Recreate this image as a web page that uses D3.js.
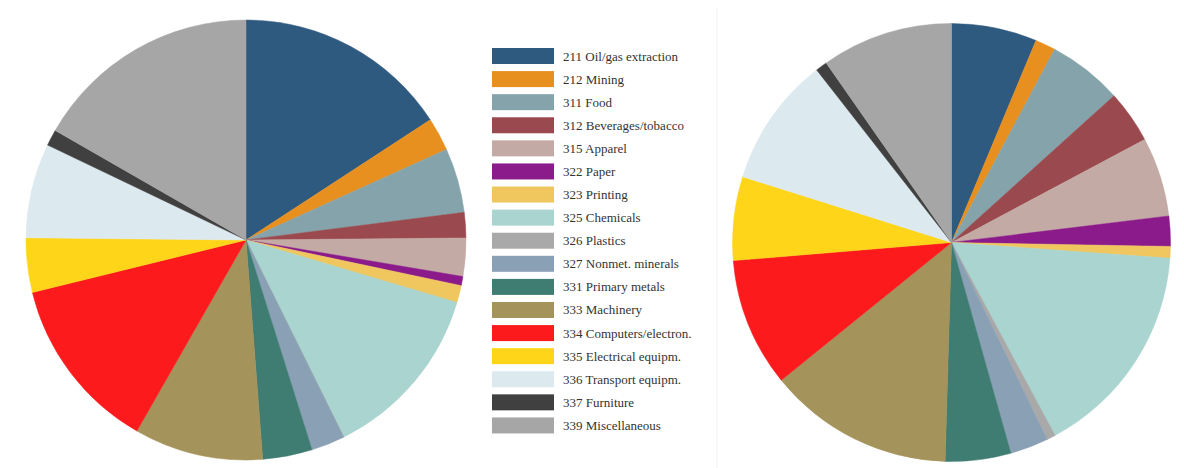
<!DOCTYPE html>
<html><head><meta charset="utf-8">
<script src="https://cdn.jsdelivr.net/npm/d3@7"></script>
<style>html,body{margin:0;padding:0;background:#fff;}svg{display:block;}
.lg{font-family:"Liberation Serif","DejaVu Serif","Times New Roman",serif;font-size:13px;fill:#333;}</style>
</head><body>
<svg id="chart" width="1184" height="468"></svg>
<script>
const categories = ["211 Oil/gas extraction","212 Mining","311 Food","312 Beverages/tobacco","315 Apparel","322 Paper","323 Printing","325 Chemicals","326 Plastics","327 Nonmet. minerals","331 Primary metals","333 Machinery","334 Computers/electron.","335 Electrical equipm.","336 Transport equipm.","337 Furniture","339 Miscellaneous"];
const colors = ["#2f5a80","#e8901f","#84a3ab","#9a4a4f","#c4aaa4","#8b1a8b","#efc75e","#a9d4cf","#a9a9a9","#8aa0b5","#3f7c72","#a4935a","#fc1a1c","#ffd51a","#dce9ee","#404040","#a6a6a6"];
const leftValues  = [15.8,2.44,4.75,1.86,2.8,0.67,1.25,13.1,0,2.47,3.64,9.47,12.9,4.0,6.94,1.19,16.7];
const rightValues = [6.3,1.5,5.5,3.89,5.86,2.22,0.86,16.0,0.64,2.83,4.83,13.7,9.5,6.17,9.58,0.86,9.69];

const svg = d3.select("#chart");
const color = d3.scaleOrdinal().domain(categories).range(colors);
const pie = d3.pie().sort(null).value(d => d.v);

function drawPie(values, cx, cy, r) {
  const data = categories.map((c, i) => ({c, v: values[i]}));
  const arc = d3.arc().innerRadius(0).outerRadius(r);
  const g = svg.append("g").attr("transform", `translate(${cx},${cy})`);
  g.selectAll("path").data(pie(data)).join("path")
    .attr("d", arc)
    .attr("fill", d => color(d.data.c))
    .attr("stroke", d => color(d.data.c))
    .attr("stroke-width", 0.5);
}

// faint panel separator
svg.append("line").attr("x1", 717).attr("x2", 717).attr("y1", 8).attr("y2", 468)
  .attr("stroke", "#f3f3f3").attr("stroke-width", 1);

drawPie(leftValues, 246, 240, 220);
drawPie(rightValues, 951.5, 242.5, 219);

const legend = svg.append("g").attr("transform", "translate(492,48)");
const rows = legend.selectAll("g").data(categories).join("g")
  .attr("transform", (d, i) => `translate(0,${i * 23.09})`);
rows.append("rect").attr("width", 62).attr("height", 16).attr("fill", d => color(d));
rows.append("text").attr("class", "lg").attr("x", 71).attr("y", 12.5)
  .text(d => d);
</script>
</body></html>
